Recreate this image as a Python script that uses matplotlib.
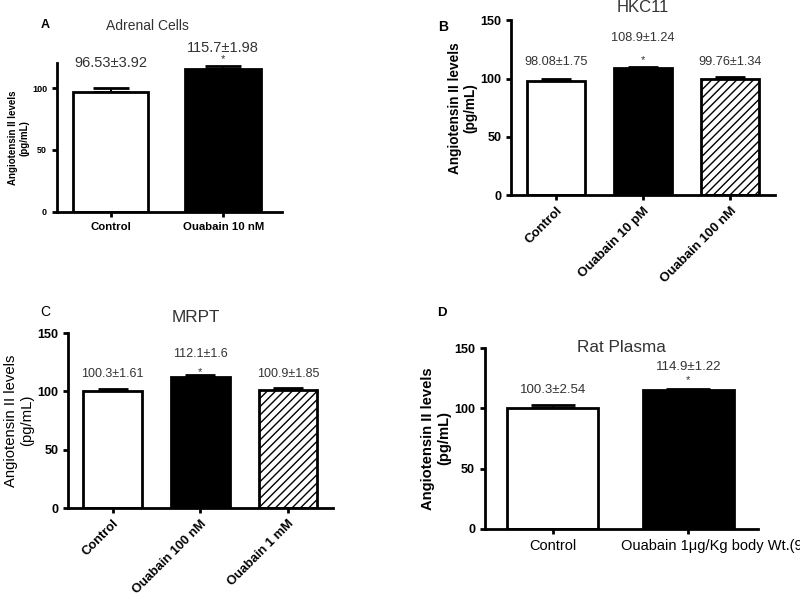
import matplotlib
matplotlib.use('Agg')
import matplotlib.pyplot as plt
import matplotlib.transforms as mtransforms

plt.rcParams['font.family'] = ['Liberation Sans', 'DejaVu Sans']
plt.rcParams['hatch.linewidth'] = 1.0

# panel A - adrenal cells
a_labels = ['Control', 'Ouabain 10 nM']
a_means = [96.53, 115.7]
a_sems = [3.92, 1.98]
a_text = ['96.53±3.92', '115.7±1.98']
a_sig = [False, True]

# panel B - HKC11
b_labels = ['Control', 'Ouabain 10 pM', 'Ouabain 100 nM']
b_means = [98.08, 108.9, 99.76]
b_sems = [1.75, 1.24, 1.34]
b_text = ['98.08±1.75', '108.9±1.24', '99.76±1.34']
b_sig = [False, True, False]

# panel C - MRPT
c_labels = ['Control', 'Ouabain 100 nM', 'Ouabain 1 mM']
c_means = [100.3, 112.1, 100.9]
c_sems = [1.61, 1.6, 1.85]
c_text = ['100.3±1.61', '112.1±1.6', '100.9±1.85']
c_sig = [False, True, False]

# panel D - rat plasma
d_labels = ['Control', 'Ouabain 1\u03bcg/Kg body Wt.(9 days)']
d_means = [100.3, 114.9]
d_sems = [2.54, 1.22]
d_text = ['100.3±2.54', '114.9±1.22']
d_sig = [False, True]

styles = [dict(color='white', hatch=None), dict(color='black', hatch=None),
          dict(color='white', hatch='////')]


def draw_panel(ax, means, sems, ylim, yticks, xlim, fs, cap):
    x = list(range(len(means)))
    for i in x:
        st = styles[i]
        ax.bar(i, means[i], width=0.67, color=st['color'], edgecolor='black',
               linewidth=2, hatch=st['hatch'], zorder=2)
        ax.errorbar(i, means[i], yerr=[[0], [sems[i]]], ecolor='black',
                    elinewidth=1.5, capsize=cap, capthick=2, zorder=1)
    ax.set_xlim(*xlim)
    ax.set_ylim(*ylim)
    ax.set_yticks(yticks)
    ax.set_xticks(x)
    for s in ['top', 'right']:
        ax.spines[s].set_visible(False)
    for s in ['left', 'bottom']:
        ax.spines[s].set_linewidth(2)
    ax.tick_params(width=2, length=3.5, labelsize=fs, direction='out')
    for t in ax.get_yticklabels():
        t.set_fontweight('bold')
    return x


def annotate(ax, texts, sig, text_y, star_y, fs, star_fs):
    for i, t in enumerate(texts):
        ax.text(i, text_y[i], t, ha='center', va='center', fontsize=fs,
                color='#333333', clip_on=False)
        if sig[i]:
            ax.text(i, star_y, '*', ha='center', va='center', fontsize=star_fs,
                    color='#333333', clip_on=False)


fig = plt.figure(figsize=(8, 5.97), dpi=100)

axA = fig.add_axes([0.071, 0.645, 0.281, 0.249])
axB = fig.add_axes([0.639, 0.673, 0.330, 0.293])
axC = fig.add_axes([0.085, 0.149, 0.331, 0.293])
axD = fig.add_axes([0.606, 0.114, 0.341, 0.303])

# A
draw_panel(axA, a_means, a_sems, (0, 120), [0, 50, 100], (-0.48, 1.52), 6.5, 13)
axA.set_xticklabels(a_labels, fontweight='bold', fontsize=8.2)
axA.set_ylabel('Angiotensin II levels\n(pg/mL)', fontsize=7, fontweight='bold', labelpad=2)
annotate(axA, a_text, a_sig, [120.5, 132.5], 123.3, 10.5, 8)

# B
draw_panel(axB, b_means, b_sems, (0, 150), [0, 50, 100, 150], (-0.52, 2.52), 9, 10.5)
axB.set_xticklabels(b_labels, fontweight='bold', fontsize=9.5, rotation=45,
                    ha='right', rotation_mode='anchor')
axB.set_ylabel('Angiotensin II levels\n(pg/mL)', fontsize=9.8, fontweight='bold', labelpad=2)
annotate(axB, b_text, b_sig, [114, 134.5, 114], 115.5, 9.2, 8)

# C
draw_panel(axC, c_means, c_sems, (0, 150), [0, 50, 100, 150], (-0.51, 2.51), 9, 10.5)
axC.set_xticklabels(c_labels, fontweight='bold', fontsize=9.3, rotation=45,
                    ha='right', rotation_mode='anchor')
axC.set_ylabel('Angiotensin II levels\n(pg/mL)', fontsize=10.7, labelpad=2)
annotate(axC, c_text, c_sig, [115, 132, 115], 117, 9, 8)

# D
draw_panel(axD, d_means, d_sems, (0, 150), [0, 50, 100, 150], (-0.5, 1.51), 9, 16)
axD.set_xticklabels(d_labels, fontsize=10.5)
# long label sits left of its tick and runs off the right edge, as in the source figure
d_tick = axD.get_xticklabels()[1]
d_tick.set_ha('left')
d_tick.set_transform(d_tick.get_transform() +
                     mtransforms.ScaledTranslation(-0.67, 0, fig.dpi_scale_trans))
axD.set_ylabel('Angiotensin II levels\n(pg/mL)', fontsize=10.6, fontweight='bold', labelpad=2)
annotate(axD, d_text, d_sig, [115, 134], 123.5, 9.5, 8)

# titles and panel letters
fig.text(147 / 800, 1 - 26 / 597, 'Adrenal Cells', ha='center', va='center', fontsize=10, color='#333333')
fig.text(643 / 800, 1 - 8 / 597, 'HKC11', ha='center', va='center', fontsize=12, color='#333333')
fig.text(196 / 800, 1 - 318 / 597, 'MRPT', ha='center', va='center', fontsize=12.3, color='#333333')
fig.text(621 / 800, 1 - 348 / 597, 'Rat Plasma', ha='center', va='center', fontsize=12.3, color='#333333')
fig.text(45 / 800, 1 - 25 / 597, 'A', ha='center', va='center', fontsize=9, fontweight='bold')
fig.text(443 / 800, 1 - 27 / 597, 'B', ha='center', va='center', fontsize=10, fontweight='bold')
fig.text(45 / 800, 1 - 312 / 597, 'C', ha='center', va='center', fontsize=10)
fig.text(442 / 800, 1 - 313 / 597, 'D', ha='center', va='center', fontsize=9.5, fontweight='bold')

fig.savefig('out.png', dpi=100)
